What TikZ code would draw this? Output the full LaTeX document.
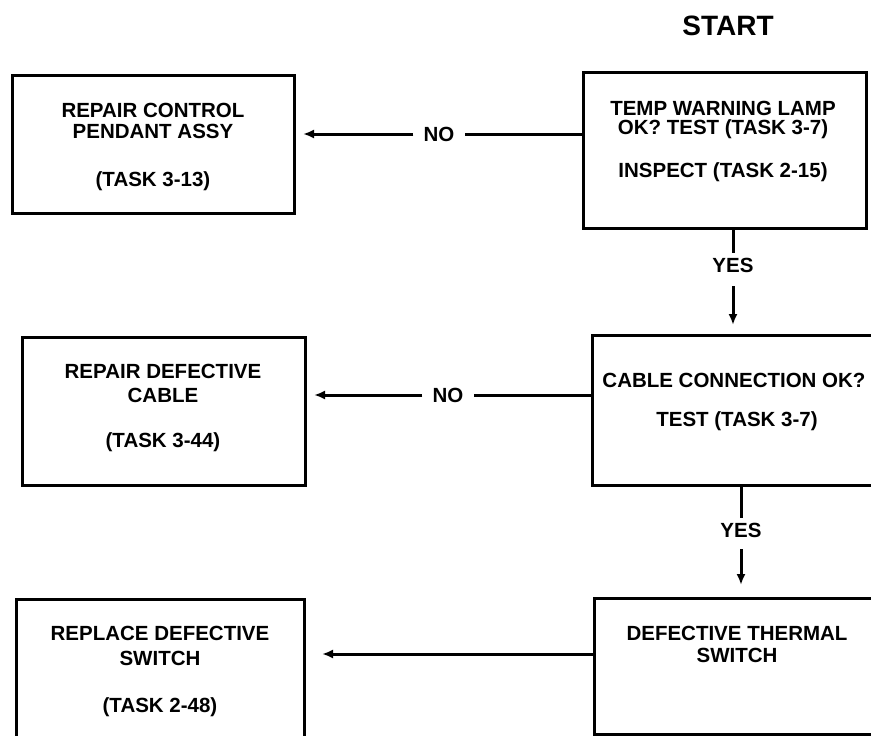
\documentclass[tikz,border=0pt]{standalone}
\usepackage{fontspec}
\setmainfont{Liberation Sans}
\usetikzlibrary{arrows.meta}
\begin{document}
\begin{tikzpicture}[x=1pt,y=-1pt,
  box/.style={draw, line width=3pt, rectangle, inner sep=0pt},
  txt/.style={anchor=base, inner sep=0pt, font=\bfseries\fontsize{20.5}{24}\selectfont},
  lbl/.style={inner xsep=10pt, inner ysep=0pt, font=\bfseries\fontsize{20.5}{24}\selectfont},
  ylbl/.style={inner sep=0pt, font=\bfseries\fontsize{20.5}{24}\selectfont},
  conn/.style={line width=3pt},
  arr/.style={conn, -{Latex[length=11pt,width=9pt]}}]
\useasboundingbox (0,0) rectangle (871,736);
\clip (0,0) rectangle (871,736);

% title
\node[anchor=base, inner sep=0pt, font=\bfseries\fontsize{28}{32}\selectfont] (start) at (728,35) {START};

% boxes
\node[box, minimum width=282pt, minimum height=138pt] (b1) at (153,144) {};
\node[box, minimum width=283pt, minimum height=156pt] (b2) at (724.5,150) {};
\node[box, minimum width=283pt, minimum height=148pt] (b3) at (163.5,411) {};
\node[box, minimum width=293pt, minimum height=150pt] (b4) at (738.5,410) {};
\node[box, minimum width=288pt, minimum height=161pt] (b5) at (160,679.5) {};
\node[box, minimum width=291pt, minimum height=136pt] (b6) at (739.5,666) {};

% box texts
\node[txt] (t1a) at (153,117) {REPAIR CONTROL};
\node[txt] (t1b) at (153,138) {PENDANT ASSY};
\node[txt] (t1c) at (153,186) {(TASK 3-13)};

\node[txt] (t2a) at (723,115) {TEMP WARNING LAMP};
\node[txt] (t2b) at (723,134) {OK? TEST (TASK 3-7)};
\node[txt] (t2c) at (723,177) {INSPECT (TASK 2-15)};

\node[txt] (t3a) at (163,378) {REPAIR DEFECTIVE};
\node[txt] (t3b) at (163,402) {CABLE};
\node[txt] (t3c) at (163,447) {(TASK 3-44)};

\node[txt] (t4a) at (734,387) {CABLE CONNECTION OK?};
\node[txt] (t4b) at (737,426) {TEST (TASK 3-7)};

\node[txt] (t5a) at (160,640) {REPLACE DEFECTIVE};
\node[txt] (t5b) at (160,665) {SWITCH};
\node[txt] (t5c) at (160,712) {(TASK 2-48)};

\node[txt] (t6a) at (737,640) {DEFECTIVE THERMAL};
\node[txt] (t6b) at (737,662) {SWITCH};

% connector labels
\node[lbl] (no1) at (439,134) {NO};
\node[lbl] (no2) at (448,395) {NO};
\node[ylbl] (yes1) at (733,265) {YES};
\node[ylbl] (yes2) at (741,530) {YES};

% connectors
\draw[conn] (b2.west |- no1) -- (no1.east);
\draw[arr, shorten >=7.5pt] (no1.west) -- (b1.east |- no1);

\draw[conn, shorten >=5pt] (b2.south -| yes1) -- (yes1.north);
\draw[arr, shorten <=14pt, shorten >=8.5pt] (yes1.south) -- (b4.north -| yes1);

\draw[conn] (b4.west |- no2) -- (no2.east);
\draw[arr, shorten >=7.5pt] (no2.west) -- (b3.east |- no2);

\draw[conn, shorten >=5pt] (b4.south -| yes2) -- (yes2.north);
\draw[arr, shorten <=12pt, shorten >=11.5pt] (yes2.south) -- (b6.north -| yes2);

\coordinate (a3) at ([yshift=12pt]b6.west);
\draw[arr, shorten >=16.5pt] (a3) -- (b5.east |- a3);
\end{tikzpicture}
\end{document}
